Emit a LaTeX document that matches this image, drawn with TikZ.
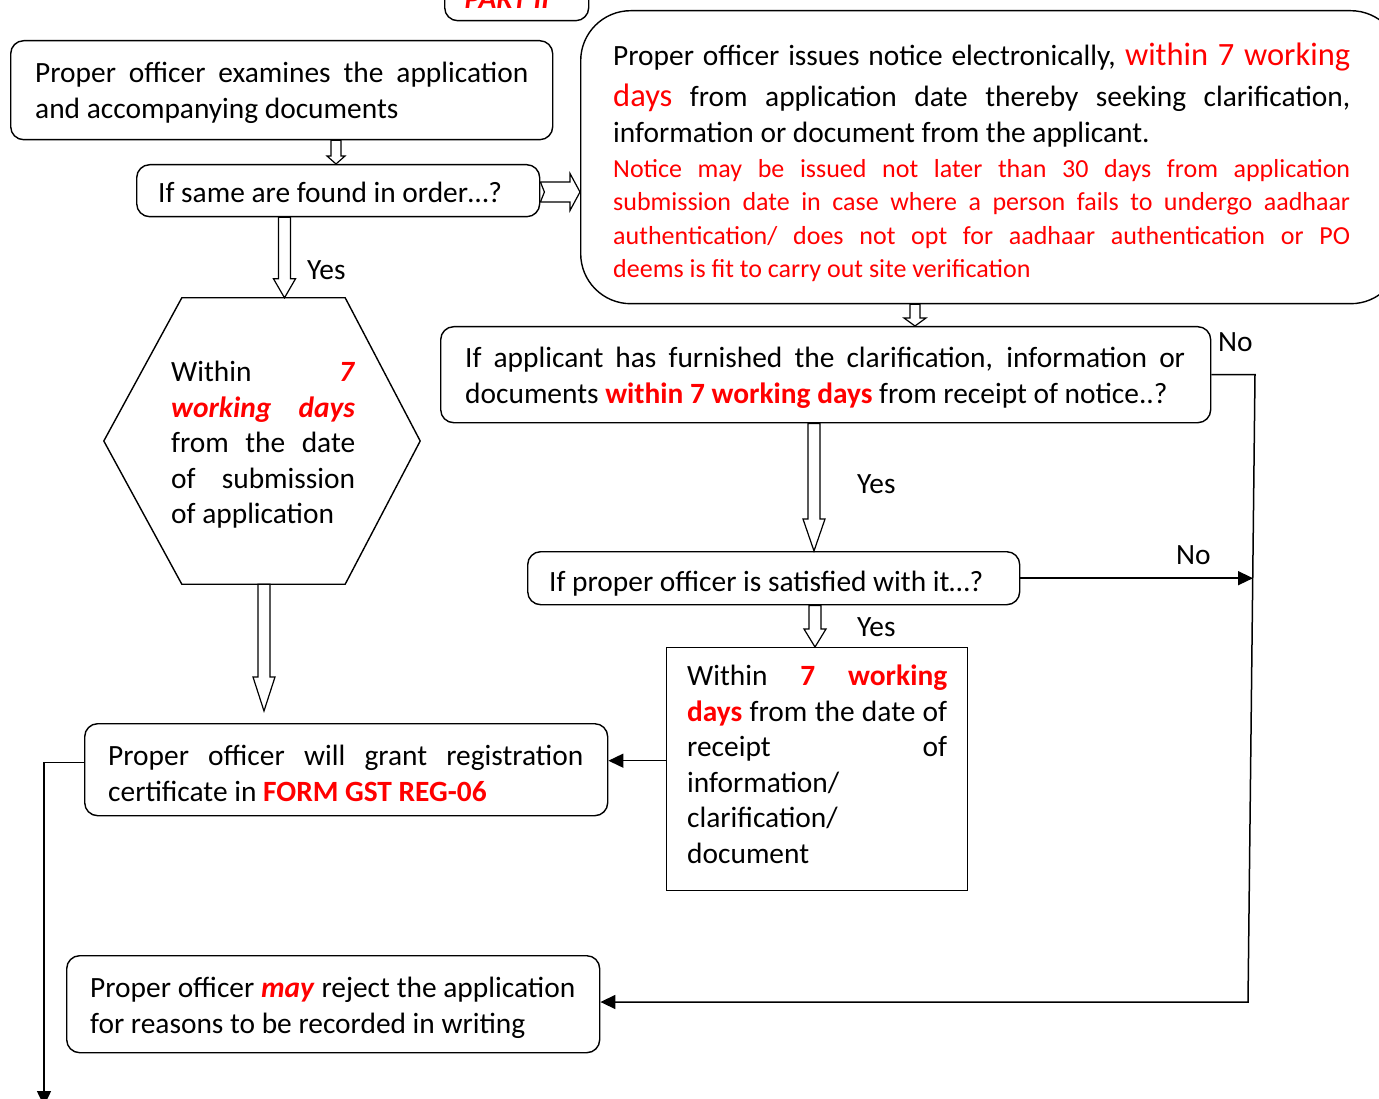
\documentclass[tikz,border=0pt]{standalone}
\usepackage{fontspec}
\setmainfont{Carlito}
\usetikzlibrary{calc,arrows.meta}

% vertical block arrow: x, from, to, shaft half-width, head half-width, head length
\newcommand{\downhollow}[6]{%
  \draw[hollowarrow] let \p1=(#2), \p2=(#3) in
    (#1pt-#4pt,\y1) -- (#1pt-#4pt,\y2+#6pt) -- (#1pt-#5pt,\y2+#6pt) -- (#1pt,\y2)
    -- (#1pt+#5pt,\y2+#6pt) -- (#1pt+#4pt,\y2+#6pt) -- (#1pt+#4pt,\y1) -- cycle;}
% horizontal notched block arrow: y, from, to, shaft half-width, head half-width, head length
\newcommand{\righthollow}[6]{%
  \draw[hollowarrow] let \p1=(#2), \p2=(#3) in
    (\x1,-#1pt+#4pt) -- (\x2-#6pt,-#1pt+#4pt) -- (\x2-#6pt,-#1pt+#5pt) -- (\x2,-#1pt)
    -- (\x2-#6pt,-#1pt-#5pt) -- (\x2-#6pt,-#1pt-#4pt) -- (\x1,-#1pt-#4pt) -- (\x1+4pt,-#1pt) -- cycle;}
\newcommand{\bigred}{\fontsize{32.5}{35.5}\selectfont\color{red}}

\begin{document}
\begin{tikzpicture}[x=1pt,y=-1pt,
  boxframe/.style={draw, line width=1.4pt, rounded corners=13pt, anchor=north west, inner sep=0pt},
  txt/.style={inner sep=0pt, anchor=north west, align=left, font=\fontsize{29.4}{35.5}\selectfont, yshift=-1.5pt},
  lbl/.style={inner sep=0pt, anchor=base west, font=\fontsize{29.4}{35.5}\selectfont, yshift=-1.5pt},
  hollowarrow/.style={draw, fill=white, line width=1.2pt, line join=miter},
  link/.style={draw, line width=1.5pt, -{Triangle[length=15pt,width=14pt]}},
  plainline/.style={draw, line width=1.5pt}
]
\useasboundingbox (0,0) rectangle (1379,1099);
\clip (0,0) rectangle (1379,1099);

% ---- boxes ----
\node[boxframe, minimum width=144pt, minimum height=60pt] (P) at (444,-40) {};
\node[boxframe, minimum width=542pt, minimum height=99pt] (A) at (10,40) {};
\node[boxframe, minimum width=403pt, minimum height=52pt] (B) at (136,164) {};
\node[boxframe, rounded corners=50pt, minimum width=820pt, minimum height=293pt] (C) at (580,10) {};
\node[boxframe, minimum width=770pt, minimum height=96pt] (D) at (440,326) {};
\node[boxframe, minimum width=492pt, minimum height=53pt] (E) at (527,551) {};
\node[boxframe, rounded corners=0pt, minimum width=301pt, minimum height=243pt] (F) at (666,647) {};
\node[boxframe, minimum width=523pt, minimum height=92pt] (G) at (84,723) {};
\node[boxframe, minimum width=533pt, minimum height=97pt] (H) at (66,955) {};
\node[minimum width=316pt, minimum height=286pt, inner sep=0pt] (hexbox) at (262,441) {};
\draw[line width=1.4pt, line join=miter] (hexbox.west) -- ([xshift=78pt]hexbox.north west)
  -- ([xshift=-75pt]hexbox.north east) -- (hexbox.east)
  -- ([xshift=-75pt]hexbox.south east) -- ([xshift=78pt]hexbox.south west) -- cycle;

% ---- texts ----
\node[lbl, anchor=base, font=\fontsize{29.4}{35.5}\selectfont\bfseries\itshape, text=red] (Pt) at (507,7) {PART II};

\node[txt] (At) at (35,81-24.85) {\strut\makebox[493pt][s]{Proper officer examines the application}\\
  and accompanying documents};

\node[txt] (Bt) at (158,201-24.85) {\strut If same are found in order…?};

\node[txt] (Ct1) at (613,64-24.85) {\strut\makebox[737pt][s]{Proper officer issues notice electronically, {\bigred within 7 working}}\\[5.5pt]
  \makebox[737pt][s]{{\bigred days} from application date thereby seeking clarification,}\\
  information or document from the applicant.};

\node[txt, font=\fontsize{26}{33.3}\selectfont, text=red] (Ct2) at (613,176-23.31) {\strut\makebox[737pt][s]{Notice may be issued not later than 30 days from application}\\
  \makebox[737pt][s]{submission date in case where a person fails to undergo aadhaar}\\
  \makebox[737pt][s]{authentication/ does not opt for aadhaar authentication or PO}\\
  deems is fit to carry out site verification};

\node[txt] (hext) at (171,380-24.85) {\strut\makebox[184pt][s]{Within \textcolor{red}{\textbf{\textit{7}}}}\\
  \makebox[184pt][s]{\textcolor{red}{\textbf{\textit{working days}}}}\\
  \makebox[184pt][s]{from the date}\\
  \makebox[184pt][s]{of submission}\\
  of application};

\node[txt] (Dt) at (465,366-24.85) {\strut\makebox[720pt][s]{If applicant has furnished the clarification, information or}\\
  documents \textcolor{red}{\textbf{within 7 working days}} from receipt of notice..?};

\node[txt] (Et) at (549,590-24.85) {\strut If proper officer is satisfied with it…?};

\node[txt] (Ft) at (687,684-24.85) {\strut\makebox[260pt][s]{Within \textcolor{red}{\textbf{7 working}}}\\
  \makebox[260pt][s]{\textcolor{red}{\textbf{days}} from the date of}\\
  \makebox[260pt][s]{receipt of}\\
  information/\\
  clarification/\\
  document};

\node[txt] (Gt) at (108,764-24.85) {\strut\makebox[475pt][s]{Proper officer will grant registration}\\
  certificate in \textcolor{red}{\textbf{FORM GST REG-06}}};

\node[txt] (Ht) at (90,996-24.85) {\strut\makebox[485pt][s]{Proper officer \textcolor{red}{\textbf{\textit{may}}} reject the application}\\
  for reasons to be recorded in writing};

% ---- block arrows ----
\downhollow{336}{A.south}{B.north}{5}{9}{8}
\downhollow{284.5}{B.south}{hexbox.north}{6}{11}{19}
\downhollow{264}{hexbox.south}{[yshift=12pt]G.north}{6}{11}{34}
\downhollow{915}{C.south}{D.north}{5}{11}{8}
\downhollow{814}{D.south}{E.north}{6}{11}{32}
\downhollow{815}{E.south}{F.north}{6}{11}{18}
\righthollow{192}{B.east}{C.west}{10}{18.5}{10}

% ---- line connectors ----
\coordinate (n1) at (1255,376);
\coordinate (n2) at (1248,1002);
\coordinate (n3) at (1253,577);
\coordinate (exitpt) at (44,1106);
\draw[link] (D.east) -- (D.east -| n1) -- (n2) -- (n2 -| H.east);
\draw[link] (E.east) -- (E.east -| n3);
\draw[link] ([yshift=8.5pt]F.west) -- ([yshift=8.5pt]F.west -| G.east);
\draw[link] ([yshift=7pt]G.west) -| (exitpt);

% ---- branch labels ----
\node[lbl] (yes1) at (307,278) {Yes};
\node[lbl] (yes2) at (857,492) {Yes};
\node[lbl] (yes3) at (857,635) {Yes};
\node[lbl] (no1) at (1218,350) {No};
\node[lbl] (no2) at (1176,563) {No};
\end{tikzpicture}
\end{document}
